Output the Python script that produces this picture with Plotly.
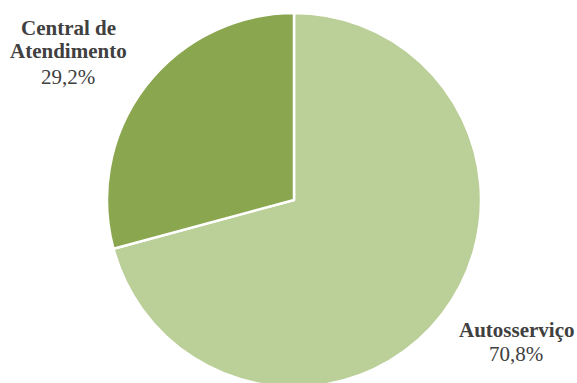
import plotly.graph_objects as go

categories = ["Autosserviço", "Central de Atendimento"]
values = [70.8, 29.2]
label_lines = [["Autosserviço"], ["Central de", "Atendimento"]]
colors = ["#BBCF98", "#8AA64F"]

W, H = 577, 387  # slightly taller than window: pie bottom is cropped as in reference
fig = go.Figure(go.Pie(
    labels=categories,
    values=values,
    sort=False,
    direction="clockwise",
    rotation=0,
    marker=dict(colors=colors, line=dict(color="white", width=2.5)),
    textinfo="none",
    hoverinfo="label+percent",
    domain=dict(x=[107 / W, 481 / W], y=[0, 1 - 13 / H]),
    showlegend=False,
))

font_family = '"Liberation Serif", "Times New Roman", Tinos, serif'
txt_color = "#404040"
fs = 21

# label anchor positions (pixel centres)
label_pos = [(516, [329.5], 353.5), (68, [27.5, 51.5], 76.5)]

ann = []
for lines, val, (cx, ys, py) in zip(label_lines, values, label_pos):
    for line, yy in zip(lines, ys):
        ann.append(dict(text=f"<b>{line}</b>", x=cx / W, y=1 - yy / H, xref="paper", yref="paper",
                        xanchor="center", yanchor="middle", showarrow=False,
                        font=dict(family=font_family, size=fs, color=txt_color)))
    pct = f"{val:.1f}".replace(".", ",") + "%"
    ann.append(dict(text=pct, x=cx / W, y=1 - py / H, xref="paper", yref="paper",
                    xanchor="center", yanchor="middle", showarrow=False,
                    font=dict(family=font_family, size=fs, color=txt_color)))

fig.update_layout(
    width=W, height=H,
    margin=dict(l=0, r=0, t=0, b=0),
    paper_bgcolor="white",
    plot_bgcolor="white",
    annotations=ann,
)

fig.write_html(
    "out.html",
    config={"displayModeBar": False},
    post_script="document.body.style.margin='0';document.body.style.padding='0';"
                "document.body.style.overflow='hidden';document.documentElement.style.overflow='hidden';",
)
